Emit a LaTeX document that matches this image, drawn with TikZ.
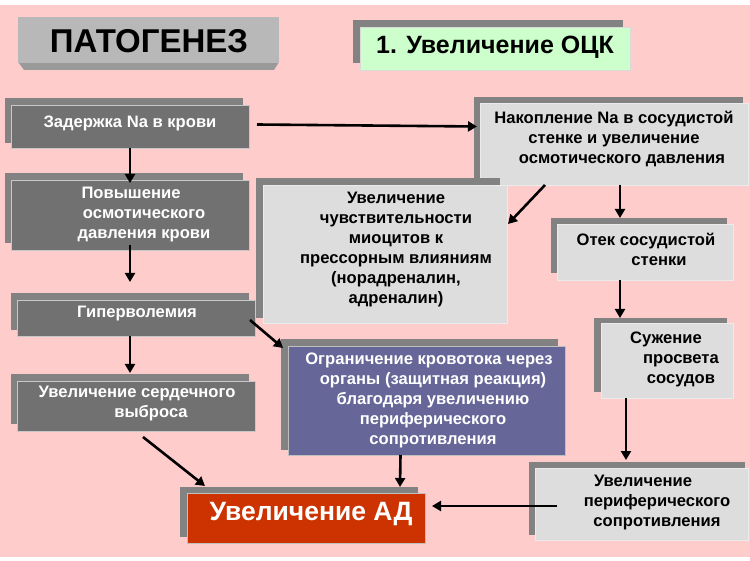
\documentclass[tikz,border=0pt]{standalone}
\usepackage{fontspec}
\setmainfont{Liberation Sans}
\usetikzlibrary{arrows.meta,calc}
\definecolor{pinkbg}{HTML}{FFCCCC}
\definecolor{dkbox}{HTML}{717171}
\definecolor{ltbox}{HTML}{DDDDDD}
\definecolor{shadowc}{HTML}{828282}
\definecolor{titlebox}{HTML}{B8B8B8}
\definecolor{titlebev}{HTML}{9A9A9A}
\definecolor{greenbox}{HTML}{CCFFCC}
\definecolor{redbox}{HTML}{CC3300}
\definecolor{purplebox}{HTML}{666699}
\newcommand\shd[4]{\fill[shadowc] (#1,#2) rectangle (#3,#4);}
\begin{document}
\begin{tikzpicture}[x=1pt,y=-1pt,
  mainbox/.style={rectangle, anchor=north west, inner sep=0pt, outer sep=0pt, line width=0.8pt},
  darkbox/.style={mainbox, fill=dkbox, draw=black!22},
  lightbox/.style={mainbox, fill=ltbox, draw=white!92!black},
  wtext/.style={text=white, align=center, inner sep=0pt, font=\bfseries\fontsize{16.6}{20}\selectfont},
  btext/.style={text=black, align=center, inner sep=0pt, font=\bfseries\fontsize{16.6}{20}\selectfont},
  arr/.style={line width=2.6pt, -{Triangle[length=9pt,width=10pt]}}
]
\useasboundingbox (0,0) rectangle (750,561);
\fill[white] (0,0) rectangle (750,561);
\fill[pinkbg] (0,5) rectangle (750,557);

% title
\fill[titlebev] (18,62) -- (279,62) -- (274,70) -- (24,70) -- cycle;
\node[mainbox, fill=titlebox, minimum width=261pt, minimum height=46pt] (b1) at (18,17) {};
\node[inner sep=0pt, font=\bfseries\fontsize{33}{37}\selectfont] (t1) at (149,41) {ПАТОГЕНЕЗ};

% OCK
\shd{353}{20}{623}{63}
\node[mainbox, fill=greenbox, draw=white!85!black, minimum width=270pt, minimum height=43pt] (b2) at (360,27) {};
\node[inner sep=0pt, font=\bfseries\fontsize{25}{29}\selectfont] (t2) at (495,47) {1. Увеличение ОЦК};

% Zaderzhka
\shd{5}{98}{243}{143}
\node[darkbox, minimum width=238pt, minimum height=43pt] (b3) at (11,105) {};
\node[wtext] (t3) at (130,123) {Задержка Na в крови};

% Nakoplenie
\shd{474}{97}{743}{180}
\node[lightbox, minimum width=268pt, minimum height=82pt] (b4) at (480,103) {};
\node[btext] (t4) at (614,139) {Накопление Na в сосудистой\\ стенке и увеличение\\ \hspace*{16pt}осмотического давления};

% Povyshenie
\shd{5}{173}{243}{243}
\node[darkbox, minimum width=238pt, minimum height=70pt] (b5) at (11,180) {};
\node[wtext] (t5) at (144,215) {Повышение\hspace*{26pt}\\ осмотического\\ давления крови};

% Chuvstvitelnost
\shd{256}{178}{500}{318}
\node[lightbox, minimum width=244pt, minimum height=138pt] (b6) at (263,185) {};
\node[btext] (t6) at (396,250) {Увеличение\\ чувствительности\\ миоцитов к\\ прессорным влияниям\\ (норадреналин,\\ адреналин)};

% Gipervolemia
\shd{11}{293}{249}{330}
\node[darkbox, minimum width=238pt, minimum height=36pt] (b7) at (17,300) {};
\node[wtext] (t7) at (137,314) {Гиперволемия};

% Ogranichenie
\shd{281}{339}{558}{450}
\node[mainbox, fill=purplebox, draw=black!25, minimum width=277pt, minimum height=109pt] (b8) at (288,346) {};
\node[wtext] (t8) at (433,400) {Ограничение кровотока через\hspace*{8pt}\\ органы (защитная реакция)\\ благодаря увеличению\\ периферического\\ сопротивления};

% Otek
\shd{551}{218}{727}{273}
\node[lightbox, minimum width=176pt, minimum height=56pt] (b9) at (557,224) {};
\node[btext] (t9) at (646,249) {Отек сосудистой\\ \hspace*{26pt}стенки};

% Suzhenie
\shd{594}{318}{727}{392}
\node[lightbox, minimum width=132pt, minimum height=75pt] (b10) at (601,323) {};
\node[btext] (t10) at (681,359) {Сужение\hspace*{30pt}\\ просвета\\ сосудов};

% Serdechnyi vybros
\shd{11}{374}{249}{424}
\node[darkbox, minimum width=238pt, minimum height=50pt] (b11) at (17,381) {};
\node[wtext] (t11) at (137,404) {Увеличение сердечного\\ \hspace*{28pt}выброса};

% AD
\shd{180}{487}{418}{537}
\node[mainbox, fill=redbox, draw=black!25, minimum width=238pt, minimum height=50pt] (b12) at (187,493) {};
\node[text=white, inner sep=0pt, font=\bfseries\fontsize{26.5}{30}\selectfont] (t12) at (311,514) {Увеличение АД};

% Perifericheskoe
\shd{529}{462}{745}{535}
\node[lightbox, minimum width=213pt, minimum height=72pt] (b13) at (535,468) {};
\node[btext] (t13) at (657,503) {Увеличение\hspace*{28pt}\\ периферического\\ сопротивления};

% arrows
\draw[arr] ($(b3.east)+(8,-2)$) -- ($(b4.west)+(-3,-17.5)$);
\draw[arr] (b3.south) -- ($(b5.north)+(0,3)$);
\draw[arr] ($(b5.south)+(0,-5)$) -- ($(b7.north)+(-6,-18)$);
\draw[arr] ($(b7.south)+(-6,0)$) -- ($(b11.north)+(-6,-8)$);
\draw[arr] ($(b7.east)+(-5,2)$) -- ($(b8.north west)+(-5,2)$);
\draw[arr] ($(b4.south)+(-69,0)$) -- ($(b6.east)+(1,-30)$);
\draw[arr] ($(b4.south)+(6,0)$) -- ($(b9.north)+(-25,-6)$);
\draw[arr] ($(b9.south)+(-25,0)$) -- ($(b10.north)+(-47,-5)$);
\draw[arr] ($(b10.south)+(-41,0)$) -- ($(b13.north)+(-15.5,-8)$);
\draw[arr] ($(b13.west)+(22,2)$) -- ($(b12.east)+(7,-12)$);
\draw[arr] ($(b8.south)+(-26,0)$) -- ($(b12.north)+(94,-6)$);
\draw[arr] ($(b11.south)+(7,6)$) -- ($(b12.north west)+(18,-7)$);
\end{tikzpicture}
\end{document}
